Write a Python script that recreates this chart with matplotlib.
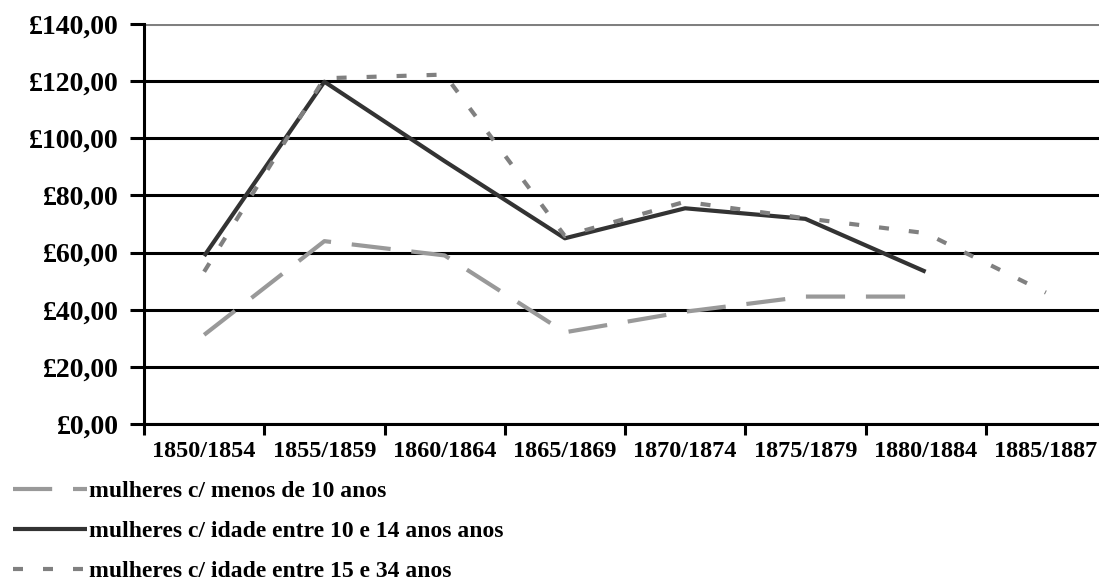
#!/usr/bin/env python3
"""Valores médios por faixa etária de mulheres, 1850-1887 (line chart)."""

import matplotlib.pyplot as plt
from matplotlib.ticker import FuncFormatter

periods = ["1850/1854", "1855/1859", "1860/1864", "1865/1869",
           "1870/1874", "1875/1879", "1880/1884", "1885/1887"]

menos_10 = [31.2, 64.0, 59.0, 32.1, 39.3, 44.6, 44.6, None]
entre_10_14 = [58.8, 119.8, 92.0, 65.0, 75.5, 71.8, 53.3, None]
entre_15_34 = [53.3, 121.0, 122.3, 65.8, 77.8, 72.0, 66.8, 46.0]

labels = ["mulheres c/ menos de 10 anos",
          "mulheres c/ idade entre 10 e 14 anos anos",
          "mulheres c/ idade entre 15 e 34 anos"]

plt.rcParams["font.family"] = ["Liberation Serif", "DejaVu Serif"]
plt.rcParams["font.weight"] = "bold"

W, H = 1099, 581
fig = plt.figure(figsize=(W / 100, H / 100), dpi=100)
ax = fig.add_axes([144 / W, (H - 424) / H, 962 / W, 400 / H])

x = list(range(len(periods)))


def clean(vals):
    return [float("nan") if v is None else v for v in vals]


lw = 3.0
ax.plot(x, clean(menos_10), color="#999999", lw=lw,
        linestyle=(0, (9.4, 5.0)), solid_capstyle="butt", dash_capstyle="butt",
        label=labels[0], zorder=3)
ax.plot(x, clean(entre_10_14), color="#333333", lw=lw,
        solid_capstyle="butt", label=labels[1], zorder=4)
ax.plot(x, clean(entre_15_34), color="#808080", lw=lw,
        linestyle=(0, (2.4, 4.8)), dash_capstyle="butt",
        label=labels[2], zorder=5)

ax.set_xlim(-0.5, 7.5)
ax.set_ylim(0, 140)
ax.set_yticks(range(0, 141, 20))
ax.yaxis.set_major_formatter(FuncFormatter(lambda v, p: f"£{v:.2f}".replace(".", ",")))
ax.set_xticks(x)
ax.set_xticklabels(periods, fontsize=17.5, fontweight="bold")
ax.set_xticks([i - 0.5 for i in range(len(periods) + 1)], minor=True)
ax.tick_params(axis="x", which="major", length=0, pad=12)
ax.tick_params(axis="x", which="minor", length=8, width=2.2, color="black")
ax.tick_params(axis="y", length=10, width=2.2, labelsize=20, pad=8)
for t in ax.get_yticklabels():
    t.set_fontweight("bold")

ax.grid(axis="y", color="black", lw=2.2)
ax.set_axisbelow(True)
ax.get_ygridlines()[-1].set_color("#808080")
for s in ["top", "right"]:
    ax.spines[s].set_visible(False)
for s in ["left", "bottom"]:
    ax.spines[s].set_linewidth(2.2)
    ax.spines[s].set_zorder(6)

fig.legend(loc="upper left", bbox_to_anchor=(4 / W, 1 - 471 / H),
           frameon=False, handlelength=3.1,
           handletextpad=0.12, labelspacing=0.78, borderaxespad=0,
           prop={"weight": "bold", "size": 17})

fig.savefig("out.png", dpi=100)
